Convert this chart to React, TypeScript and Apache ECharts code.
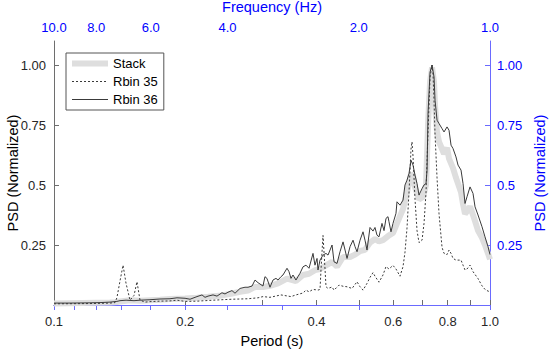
import React, { useEffect, useRef } from "react";
import * as echarts from "echarts";

const periodTicks = [0.1, 0.2, 0.3, 0.4, 0.5, 0.6, 0.7, 0.8, 0.9, 1.0];
const periodLabels = [0.1, 0.2, 0.4, 0.6, 0.8, 1.0];
const freqTicks = [10, 9, 8, 7, 6, 5, 4, 3, 2, 1];
const freqLabels = [10, 8, 6, 4, 2, 1];
const psdTicks = [0.25, 0.5, 0.75, 1.0];
const psdLabelText = ["0.25", "0.5", "0.75", "1.00"];

const stackPeriod = [0.1, 0.1344, 0.1394, 0.1417, 0.1494, 0.1575, 0.166, 0.175, 0.1845, 0.1998, 0.2128, 0.2256, 0.2428, 0.256, 0.2671, 0.2786, 0.2891, 0.3015, 0.3129, 0.3264, 0.3423, 0.3589, 0.3725, 0.3845, 0.3968, 0.4075, 0.4206, 0.4342, 0.4458, 0.4602, 0.4775, 0.4903, 0.5034, 0.5168, 0.5306, 0.5448, 0.5564, 0.5683, 0.5866, 0.5991, 0.6119, 0.6217, 0.6317, 0.6451, 0.6589, 0.6659, 0.673, 0.6874, 0.7021, 0.7133, 0.7209, 0.7286, 0.7363, 0.7441, 0.7481, 0.756, 0.764, 0.7762, 0.7845, 0.797, 0.8054, 0.8226, 0.8356, 0.8581, 0.8673, 0.8764, 0.8857, 0.8999, 0.9142, 0.924, 0.9387, 0.9587, 0.9739, 0.9895, 1.0];
const stackValue = [0.006, 0.010, 0.012, 0.015, 0.020, 0.018, 0.020, 0.022, 0.025, 0.027, 0.030, 0.034, 0.040, 0.048, 0.055, 0.060, 0.075, 0.075, 0.080, 0.090, 0.110, 0.100, 0.125, 0.130, 0.145, 0.150, 0.165, 0.180, 0.160, 0.200, 0.200, 0.210, 0.225, 0.230, 0.260, 0.275, 0.265, 0.270, 0.290, 0.300, 0.340, 0.370, 0.400, 0.470, 0.545, 0.540, 0.490, 0.440, 0.450, 0.500, 0.750, 0.930, 0.990, 0.930, 0.830, 0.720, 0.680, 0.650, 0.630, 0.655, 0.610, 0.570, 0.530, 0.470, 0.420, 0.380, 0.390, 0.410, 0.375, 0.350, 0.310, 0.280, 0.250, 0.215, 0.190];

const rbin35Period = [0.1, 0.1209, 0.1344, 0.138, 0.1394, 0.1417, 0.144, 0.1463, 0.1494, 0.1526, 0.155, 0.1575, 0.1617, 0.166, 0.175, 0.1845, 0.1915, 0.1998, 0.2128, 0.222, 0.2316, 0.2428, 0.256, 0.2671, 0.2786, 0.2937, 0.3015, 0.3129, 0.3316, 0.3496, 0.3589, 0.3725, 0.3784, 0.3845, 0.3927, 0.4032, 0.4075, 0.4097, 0.414, 0.4184, 0.4206, 0.4251, 0.4342, 0.4388, 0.4506, 0.4602, 0.47, 0.4826, 0.4955, 0.5034, 0.5114, 0.5223, 0.5306, 0.5391, 0.5448, 0.5564, 0.5683, 0.5774, 0.5866, 0.5991, 0.6087, 0.6217, 0.6317, 0.6383, 0.6451, 0.652, 0.6589, 0.6624, 0.6659, 0.673, 0.6802, 0.6874, 0.6984, 0.7058, 0.7133, 0.7171, 0.7209, 0.7286, 0.7363, 0.7402, 0.7441, 0.7481, 0.756, 0.764, 0.7762, 0.7845, 0.797, 0.8054, 0.814, 0.8226, 0.8356, 0.8581, 0.8673, 0.8764, 0.8857, 0.8999, 0.9142, 0.9387, 0.9587, 0.9739, 0.9895, 1.0];
const rbin35Value = [0.005, 0.006, 0.008, 0.010, 0.030, 0.100, 0.166, 0.090, 0.020, 0.040, 0.097, 0.020, 0.012, 0.014, 0.016, 0.017, 0.020, 0.015, 0.016, 0.018, 0.020, 0.022, 0.024, 0.025, 0.026, 0.030, 0.035, 0.032, 0.042, 0.035, 0.042, 0.050, 0.062, 0.055, 0.065, 0.062, 0.065, 0.150, 0.290, 0.150, 0.076, 0.069, 0.075, 0.062, 0.083, 0.078, 0.076, 0.069, 0.097, 0.076, 0.062, 0.090, 0.115, 0.135, 0.120, 0.095, 0.125, 0.160, 0.150, 0.165, 0.150, 0.120, 0.160, 0.220, 0.320, 0.470, 0.650, 0.680, 0.620, 0.440, 0.310, 0.260, 0.270, 0.340, 0.470, 0.600, 0.720, 0.950, 1.000, 0.960, 0.850, 0.710, 0.530, 0.380, 0.240, 0.215, 0.210, 0.229, 0.215, 0.194, 0.187, 0.187, 0.166, 0.146, 0.150, 0.166, 0.139, 0.110, 0.080, 0.065, 0.058, 0.055];

const rbin36Period = [0.1, 0.1088, 0.1209, 0.1275, 0.1344, 0.1394, 0.1417, 0.1463, 0.1526, 0.1575, 0.166, 0.175, 0.1845, 0.1915, 0.1998, 0.2051, 0.2128, 0.2185, 0.222, 0.2256, 0.2316, 0.2365, 0.2428, 0.2467, 0.2506, 0.256, 0.2601, 0.2671, 0.2742, 0.2786, 0.2846, 0.2891, 0.2937, 0.3015, 0.3047, 0.3079, 0.3129, 0.3179, 0.323, 0.3264, 0.3316, 0.3351, 0.3423, 0.3459, 0.3496, 0.3533, 0.3589, 0.3627, 0.3666, 0.3725, 0.3784, 0.3845, 0.3927, 0.3968, 0.4011, 0.4032, 0.4075, 0.414, 0.4206, 0.4251, 0.4342, 0.4388, 0.4458, 0.4529, 0.4602, 0.4651, 0.47, 0.4775, 0.4851, 0.4903, 0.4955, 0.5034, 0.5114, 0.5168, 0.5223, 0.5306, 0.5391, 0.5448, 0.5506, 0.5564, 0.5653, 0.5714, 0.5774, 0.5835, 0.5866, 0.5928, 0.5991, 0.6087, 0.6119, 0.6217, 0.6317, 0.6383, 0.6451, 0.652, 0.6589, 0.6659, 0.673, 0.6802, 0.6874, 0.6984, 0.7058, 0.7133, 0.7171, 0.7209, 0.7286, 0.7363, 0.7441, 0.7481, 0.756, 0.764, 0.7762, 0.7845, 0.797, 0.8054, 0.814, 0.8226, 0.8356, 0.8446, 0.8581, 0.8673, 0.8764, 0.8857, 0.8999, 0.9142, 0.924, 0.9387, 0.9587, 0.9739, 0.9895, 1.0];
const rbin36Value = [0.008, 0.008, 0.009, 0.010, 0.012, 0.015, 0.018, 0.020, 0.018, 0.020, 0.022, 0.025, 0.026, 0.030, 0.028, 0.024, 0.035, 0.042, 0.032, 0.037, 0.042, 0.037, 0.051, 0.046, 0.053, 0.060, 0.049, 0.069, 0.074, 0.074, 0.079, 0.104, 0.093, 0.079, 0.118, 0.111, 0.074, 0.104, 0.111, 0.104, 0.118, 0.125, 0.153, 0.139, 0.111, 0.125, 0.104, 0.118, 0.132, 0.159, 0.166, 0.153, 0.215, 0.166, 0.194, 0.146, 0.187, 0.208, 0.215, 0.208, 0.250, 0.180, 0.173, 0.222, 0.263, 0.229, 0.194, 0.243, 0.270, 0.243, 0.222, 0.270, 0.305, 0.270, 0.229, 0.323, 0.308, 0.323, 0.291, 0.284, 0.340, 0.310, 0.361, 0.368, 0.347, 0.305, 0.340, 0.382, 0.430, 0.416, 0.437, 0.500, 0.520, 0.548, 0.603, 0.583, 0.541, 0.506, 0.458, 0.485, 0.500, 0.506, 0.562, 0.800, 0.970, 1.000, 0.950, 0.853, 0.770, 0.756, 0.735, 0.721, 0.742, 0.728, 0.666, 0.652, 0.617, 0.583, 0.562, 0.506, 0.423, 0.451, 0.492, 0.465, 0.409, 0.375, 0.326, 0.284, 0.243, 0.210];

const zip = (xs: number[], ys: number[]) => xs.map((x, i) => [x, ys[i]]);

const FONT = "Liberation Sans, Arial, Helvetica, sans-serif";
const BLUE = "#0000ff";
const BLUE_LINE = "#6a6aff";
const AXIS_GRAY = "#6e6e6e";
const TEXT = "#262626";
const NAME_SIZE = 14.5;
const STACK_COLOR = "#dedede";
const LINE_COLOR = "#3a3a3a";

export default function App() {
  const ref = useRef<HTMLDivElement>(null);
  useEffect(() => {
    if (!ref.current) return;
    const chart = echarts.init(ref.current, undefined, { renderer: "svg" });
    const psdFmt = (v: number) => {
      const i = psdTicks.findIndex((t) => Math.abs(t - v) < 1e-9);
      return i >= 0 ? psdLabelText[i] : "";
    };
    chart.setOption({
      animation: false,
      backgroundColor: "#ffffff",
      textStyle: { fontFamily: FONT },
      grid: { left: 54, right: 60, top: 41, bottom: 45, containLabel: false, outerBoundsMode: "none" },
      legend: {
        orient: "vertical",
        left: 66,
        top: 53,
        data: [
          { name: "Stack", lineStyle: { width: 6, color: STACK_COLOR } },
          { name: "Rbin 35", lineStyle: { width: 1, color: LINE_COLOR, type: [2, 2] } },
          { name: "Rbin 36", lineStyle: { width: 1, color: LINE_COLOR } },
        ],
        itemWidth: 36,
        itemHeight: 14,
        itemGap: 5,
        padding: [4, 6, 4, 3],
        borderColor: "#555",
        borderWidth: 1,
        backgroundColor: "#ffffff",
        itemStyle: { opacity: 0 },
        textStyle: { fontSize: 13, color: "#000", fontFamily: FONT },
      },
      xAxis: [
        {
          type: "log",
          logBase: 10,
          min: 0.1,
          max: 1,
          position: "bottom",
          name: "Period (s)",
          nameLocation: "middle",
          nameGap: 28,
          nameTextStyle: { fontSize: NAME_SIZE, color: "#000", fontFamily: FONT },
          axisLine: { show: true, lineStyle: { color: AXIS_GRAY, width: 1 } },
          axisTick: { show: true, inside: true, length: 5, customValues: periodTicks, lineStyle: { color: AXIS_GRAY } },
          axisLabel: {
            show: true,
            customValues: periodLabels,
            margin: 10,
            fontSize: 13,
            color: TEXT,
            fontFamily: FONT,
            formatter: (v: number) => v.toFixed(1),
          },
          splitLine: { show: false },
          minorTick: { show: false },
        },
        {
          type: "log",
          logBase: 10,
          min: 0.1,
          max: 1,
          position: "top",
          name: "Frequency (Hz)",
          nameLocation: "middle",
          nameGap: 27,
          nameTextStyle: { fontSize: NAME_SIZE, color: BLUE, fontFamily: FONT },
          axisLine: { show: true, lineStyle: { color: BLUE_LINE, width: 1 } },
          axisTick: { show: true, inside: true, length: 5, customValues: freqTicks.map((f) => 1 / f), lineStyle: { color: BLUE_LINE } },
          axisLabel: {
            show: true,
            customValues: freqLabels.map((f) => 1 / f),
            margin: 7,
            fontSize: 13,
            color: BLUE,
            fontFamily: FONT,
            formatter: (v: number) => (1 / v).toFixed(1),
          },
          splitLine: { show: false },
        },
      ],
      yAxis: [
        {
          type: "value",
          min: 0,
          max: 1.1,
          position: "left",
          name: "PSD (Normalized)",
          nameLocation: "middle",
          nameRotate: 90,
          nameGap: 34,
          nameMoveOverlap: false,
          nameTextStyle: { fontSize: NAME_SIZE, color: "#000", fontFamily: FONT },
          axisLine: { show: true, lineStyle: { color: AXIS_GRAY, width: 1 } },
          axisTick: { show: true, inside: true, length: 5, customValues: psdTicks, lineStyle: { color: AXIS_GRAY } },
          axisLabel: { show: true, customValues: psdTicks, margin: 8, fontSize: 13, color: TEXT, fontFamily: FONT, formatter: psdFmt },
          splitLine: { show: false },
        },
        {
          type: "value",
          min: 0,
          max: 1.1,
          position: "right",
          name: "PSD (Normalized)",
          nameLocation: "middle",
          nameRotate: 90,
          nameGap: 42,
          nameMoveOverlap: false,
          nameTextStyle: { fontSize: NAME_SIZE, color: BLUE, fontFamily: FONT },
          axisLine: { show: true, lineStyle: { color: BLUE_LINE, width: 1 } },
          axisTick: { show: true, inside: true, length: 5, customValues: psdTicks, lineStyle: { color: BLUE_LINE } },
          axisLabel: { show: true, customValues: psdTicks, margin: 7, fontSize: 13, color: BLUE, fontFamily: FONT, formatter: psdFmt },
          splitLine: { show: false },
        },
      ],
      series: [
        {
          name: "Stack",
          type: "line",
          xAxisIndex: 0,
          yAxisIndex: 0,
          data: zip(stackPeriod, stackValue),
          showSymbol: false,
          symbol: "none",
          lineStyle: { color: STACK_COLOR, width: 6 },
          itemStyle: { color: STACK_COLOR },
          z: 1,
        },
        {
          name: "Rbin 35",
          type: "line",
          xAxisIndex: 0,
          yAxisIndex: 0,
          data: zip(rbin35Period, rbin35Value),
          showSymbol: false,
          symbol: "none",
          lineStyle: { color: LINE_COLOR, width: 1, type: [2, 2] },
          itemStyle: { color: LINE_COLOR },
          z: 2,
        },
        {
          name: "Rbin 36",
          type: "line",
          xAxisIndex: 0,
          yAxisIndex: 0,
          data: zip(rbin36Period, rbin36Value),
          showSymbol: false,
          symbol: "none",
          lineStyle: { color: LINE_COLOR, width: 1 },
          itemStyle: { color: LINE_COLOR },
          z: 3,
        },
      ],
    });
    return () => chart.dispose();
  }, []);
  return <div ref={ref} style={{ position: "fixed", left: 0, top: 0, width: 550, height: 350 }} />;
}
